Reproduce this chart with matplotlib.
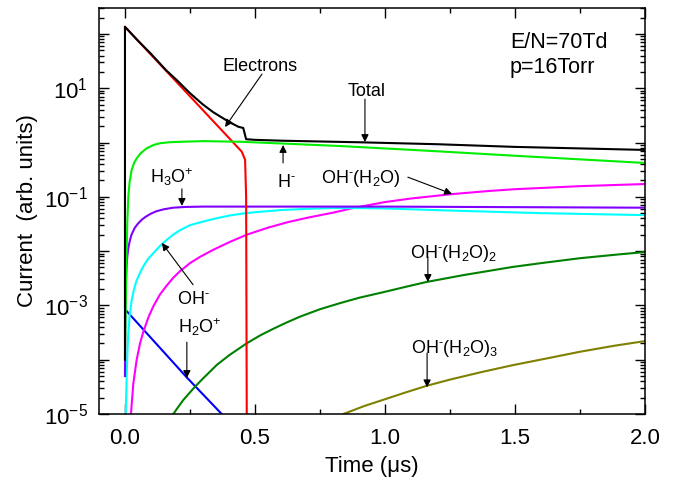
import numpy as np
import matplotlib
matplotlib.use('Agg')
import matplotlib.pyplot as plt
from matplotlib.ticker import LogLocator, FuncFormatter, MultipleLocator, NullFormatter

plt.rcParams['font.family'] = ['Liberation Sans', 'DejaVu Sans']
plt.rcParams['mathtext.fontset'] = 'custom'
plt.rcParams['mathtext.rm'] = 'Liberation Sans'
plt.rcParams['mathtext.it'] = 'Liberation Sans:italic'
plt.rcParams['mathtext.bf'] = 'Liberation Sans:bold'

# values (time in us, current in arb. units)
h2o_plus_t = [0.003, 0.238, 0.372]
h2o_plus = [8.2e-4, 4.7e-5, 1.0e-5]

oh_h2o2_t = [0.186, 0.2, 0.224, 0.25, 0.27, 0.3, 0.353, 0.4, 0.468, 0.52, 0.57, 0.62, 0.673,
             0.75, 0.827, 0.9, 1.0, 1.08, 1.16, 1.3, 1.49, 1.6, 1.75, 1.9, 2.0]
oh_h2o2 = [1e-5, 1.25e-5, 1.8e-5, 2.5e-5, 3.2e-5, 4.5e-5, 8e-5, 1.2e-4, 2.0e-4, 2.8e-4, 3.7e-4,
           4.8e-4, 6.2e-4, 8.5e-4, 1.1e-3, 1.38e-3, 1.78e-3, 2.2e-3, 2.7e-3, 3.6e-3, 5.1e-3,
           6e-3, 7.4e-3, 8.7e-3, 9.6e-3]

oh_h2o3_t = [0.84, 0.92, 1.0, 1.08, 1.16, 1.25, 1.37, 1.49, 1.62, 1.75, 1.88, 2.0]
oh_h2o3 = [1e-5, 1.4e-5, 1.87e-5, 2.5e-5, 3.3e-5, 4.3e-5, 5.9e-5, 7.9e-5, 1.05e-4, 1.4e-4,
           1.8e-4, 2.2e-4]

oh_h2o_t = [0.018, 0.023, 0.032, 0.045, 0.058, 0.07, 0.09, 0.109, 0.135, 0.16, 0.185, 0.21,
            0.25, 0.29, 0.34, 0.404, 0.468, 0.55, 0.625, 0.7, 0.8, 0.877, 1.0, 1.1, 1.257,
            1.4, 1.5, 1.75, 2.0]
oh_h2o = [3e-6, 1e-5, 3.6e-5, 1e-4, 2.0e-4, 3.2e-4, 6e-4, 9.6e-4, 1.6e-3, 2.3e-3, 3.2e-3,
          4.2e-3, 6e-3, 7.9e-3, 0.0106, 0.0148, 0.020, 0.027, 0.034, 0.041, 0.051, 0.062,
          0.080, 0.093, 0.112, 0.128, 0.138, 0.157, 0.172]

oh_t = [0.0015, 0.003, 0.0065, 0.01, 0.0128, 0.018, 0.026, 0.035, 0.045, 0.058, 0.07, 0.09,
        0.115, 0.135, 0.16, 0.185, 0.21, 0.25, 0.3, 0.35, 0.4, 0.45, 0.5, 0.6, 0.7, 0.8,
        0.9, 1.0, 1.24, 1.6, 2.0]
oh = [3e-6, 1e-5, 4.9e-5, 1.6e-4, 3.1e-4, 6.5e-4, 1.26e-3, 2.0e-3, 2.9e-3, 4.0e-3, 5.2e-3,
      7.3e-3, 9.8e-3, 0.0125, 0.016, 0.020, 0.024, 0.030, 0.035, 0.040, 0.045, 0.049, 0.052,
      0.057, 0.060, 0.062, 0.062, 0.061, 0.056, 0.050, 0.046]

h3o_t = [0.0, 0.001, 0.002, 0.004, 0.006, 0.009, 0.0128, 0.018, 0.025, 0.038, 0.05, 0.065,
         0.08, 0.1, 0.12, 0.15, 0.186, 0.23, 0.3, 1.0, 2.0]
h3o = [5e-5, 3e-4, 1e-3, 3e-3, 5e-3, 8e-3, 0.0113, 0.015, 0.02, 0.027, 0.032, 0.038, 0.043,
       0.049, 0.054, 0.059, 0.063, 0.065, 0.066, 0.066, 0.063]

electrons_t = [0.0, 0.449, 0.462, 0.466, 0.469]
electrons = [135, 0.68, 0.48, 0.1, 1e-6]

h_minus_t = [0.0, 0.003, 0.005, 0.0065, 0.009, 0.0128, 0.018, 0.0256, 0.035, 0.045, 0.06,
             0.083, 0.11, 0.135, 0.17, 0.21, 0.3, 0.45, 0.6, 0.83, 1.2, 1.5, 2.0]
h_minus = [1e-4, 1e-3, 4e-3, 0.0105, 0.035, 0.1, 0.19, 0.31, 0.42, 0.51, 0.63, 0.78, 0.9,
           0.97, 1.01, 1.03, 1.06, 1.03, 0.96, 0.86, 0.69, 0.57, 0.42]

total_t = [0.0, 0.0, 0.05, 0.1, 0.16, 0.2, 0.25, 0.3, 0.34, 0.4, 0.436, 0.455, 0.466, 0.5,
           0.6, 0.9, 1.2, 1.5, 2.0]
total = [1e-4, 135, 75, 43, 21, 14, 8.1, 5.0, 3.6, 2.4, 1.95, 1.85, 1.15, 1.12,
         1.08, 1.01, 0.93, 0.83, 0.73]

fig = plt.figure(figsize=(6.76, 4.82), dpi=100)
ax = fig.add_axes([0.1464, 0.1411, 0.8077, 0.8423])

lw = 1.5
ax.plot(h2o_plus_t, h2o_plus, color='#0000ff', lw=lw)
ax.plot(oh_h2o2_t, oh_h2o2, color='#008000', lw=lw)
ax.plot(oh_h2o3_t, oh_h2o3, color='#808000', lw=lw)
ax.plot(oh_h2o_t, oh_h2o, color='#ff00ff', lw=lw)
ax.plot(oh_t, oh, color='#00ffff', lw=lw)
ax.plot(h3o_t, h3o, color='#8000ff', lw=lw)
ax.plot(electrons_t, electrons, color='#ff0000', lw=lw)
ax.plot(h_minus_t, h_minus, color='#00ee00', lw=lw)
ax.plot(total_t, total, color='k', lw=lw)

ax.set_yscale('log')
ax.set_xlim(-0.1, 2.0)
ax.set_ylim(1e-5, 300)

ax.xaxis.set_major_locator(MultipleLocator(0.5))
ax.xaxis.set_minor_locator(MultipleLocator(0.25))
ax.xaxis.set_major_formatter(FuncFormatter(lambda v, p: '%.1f' % v))
ax.yaxis.set_major_locator(LogLocator(base=10, numticks=20))
ax.yaxis.set_minor_locator(LogLocator(base=10, subs=np.arange(2, 10), numticks=20))
ax.yaxis.set_major_formatter(FuncFormatter(
    lambda v, p: r'$10^{%d}$' % round(np.log10(v)) if round(np.log10(v)) % 2 else ''))
ax.yaxis.set_minor_formatter(NullFormatter())

ax.tick_params(which='both', direction='in', top=True, right=True, width=1.0)
ax.tick_params(which='major', length=7, labelsize=16)
ax.tick_params(axis='x', which='major', pad=10)
ax.tick_params(axis='y', which='major', pad=8)
ax.tick_params(which='minor', length=3.5)
for s in ax.spines.values():
    s.set_linewidth(1.1)

ax.set_xlabel('Time (\u03bcs)', fontsize=16, labelpad=5)
ax.set_ylabel('Current  (arb. units)', fontsize=16, labelpad=4)

# labels: text, x, baseline y
labels = [
    ('Electrons', 0.519, 21.0),
    ('Total', 0.931, 7.18),
    (r'H$^{\text{-}}$', 0.619, 0.151),
    (r'OH$^{\text{-}}$(H$_2$O)', 0.908, 0.182),
    (r'H$_3$O$^{+}$', 0.181, 0.182),
    (r'OH$^{\text{-}}$', 0.265, 1.06e-3),
    (r'H$_2$O$^{+}$', 0.288, 3.06e-4),
    (r'OH$^{\text{-}}$(H$_2$O)$_2$', 1.262, 7.36e-3),
    (r'OH$^{\text{-}}$(H$_2$O)$_3$', 1.269, 1.31e-4),
]
for txt, x, y in labels:
    ax.text(x, y, txt, ha='center', va='baseline', fontsize=13)

# arrows: tail -> tip
arrows = [
    ((0.527, 18.2), (0.385, 1.93)),
    ((0.923, 6.3), (0.923, 1.02)),
    ((0.608, 0.42), (0.608, 0.90)),
    ((1.088, 0.23), (1.258, 0.113)),
    ((0.219, 0.14), (0.219, 0.068)),
    ((0.262, 2.4e-3), (0.142, 0.0141)),
    ((0.238, 2.1e-4), (0.238, 4.6e-5)),
    ((1.165, 7.8e-3), (1.165, 2.7e-3)),
    ((1.162, 1.33e-4), (1.162, 3.1e-5)),
]
for tail, tip in arrows:
    ax.annotate('', xy=tip, xytext=tail,
                arrowprops=dict(arrowstyle='-|>', color='k', lw=0.8,
                                mutation_scale=11, shrinkA=0, shrinkB=0))

ax.text(1.481, 54.3, 'E/N=70Td', fontsize=15.5, ha='left', va='baseline')
ax.text(1.481, 19.3, 'p=16Torr', fontsize=15.5, ha='left', va='baseline')

fig.savefig('out.png', dpi=100)
